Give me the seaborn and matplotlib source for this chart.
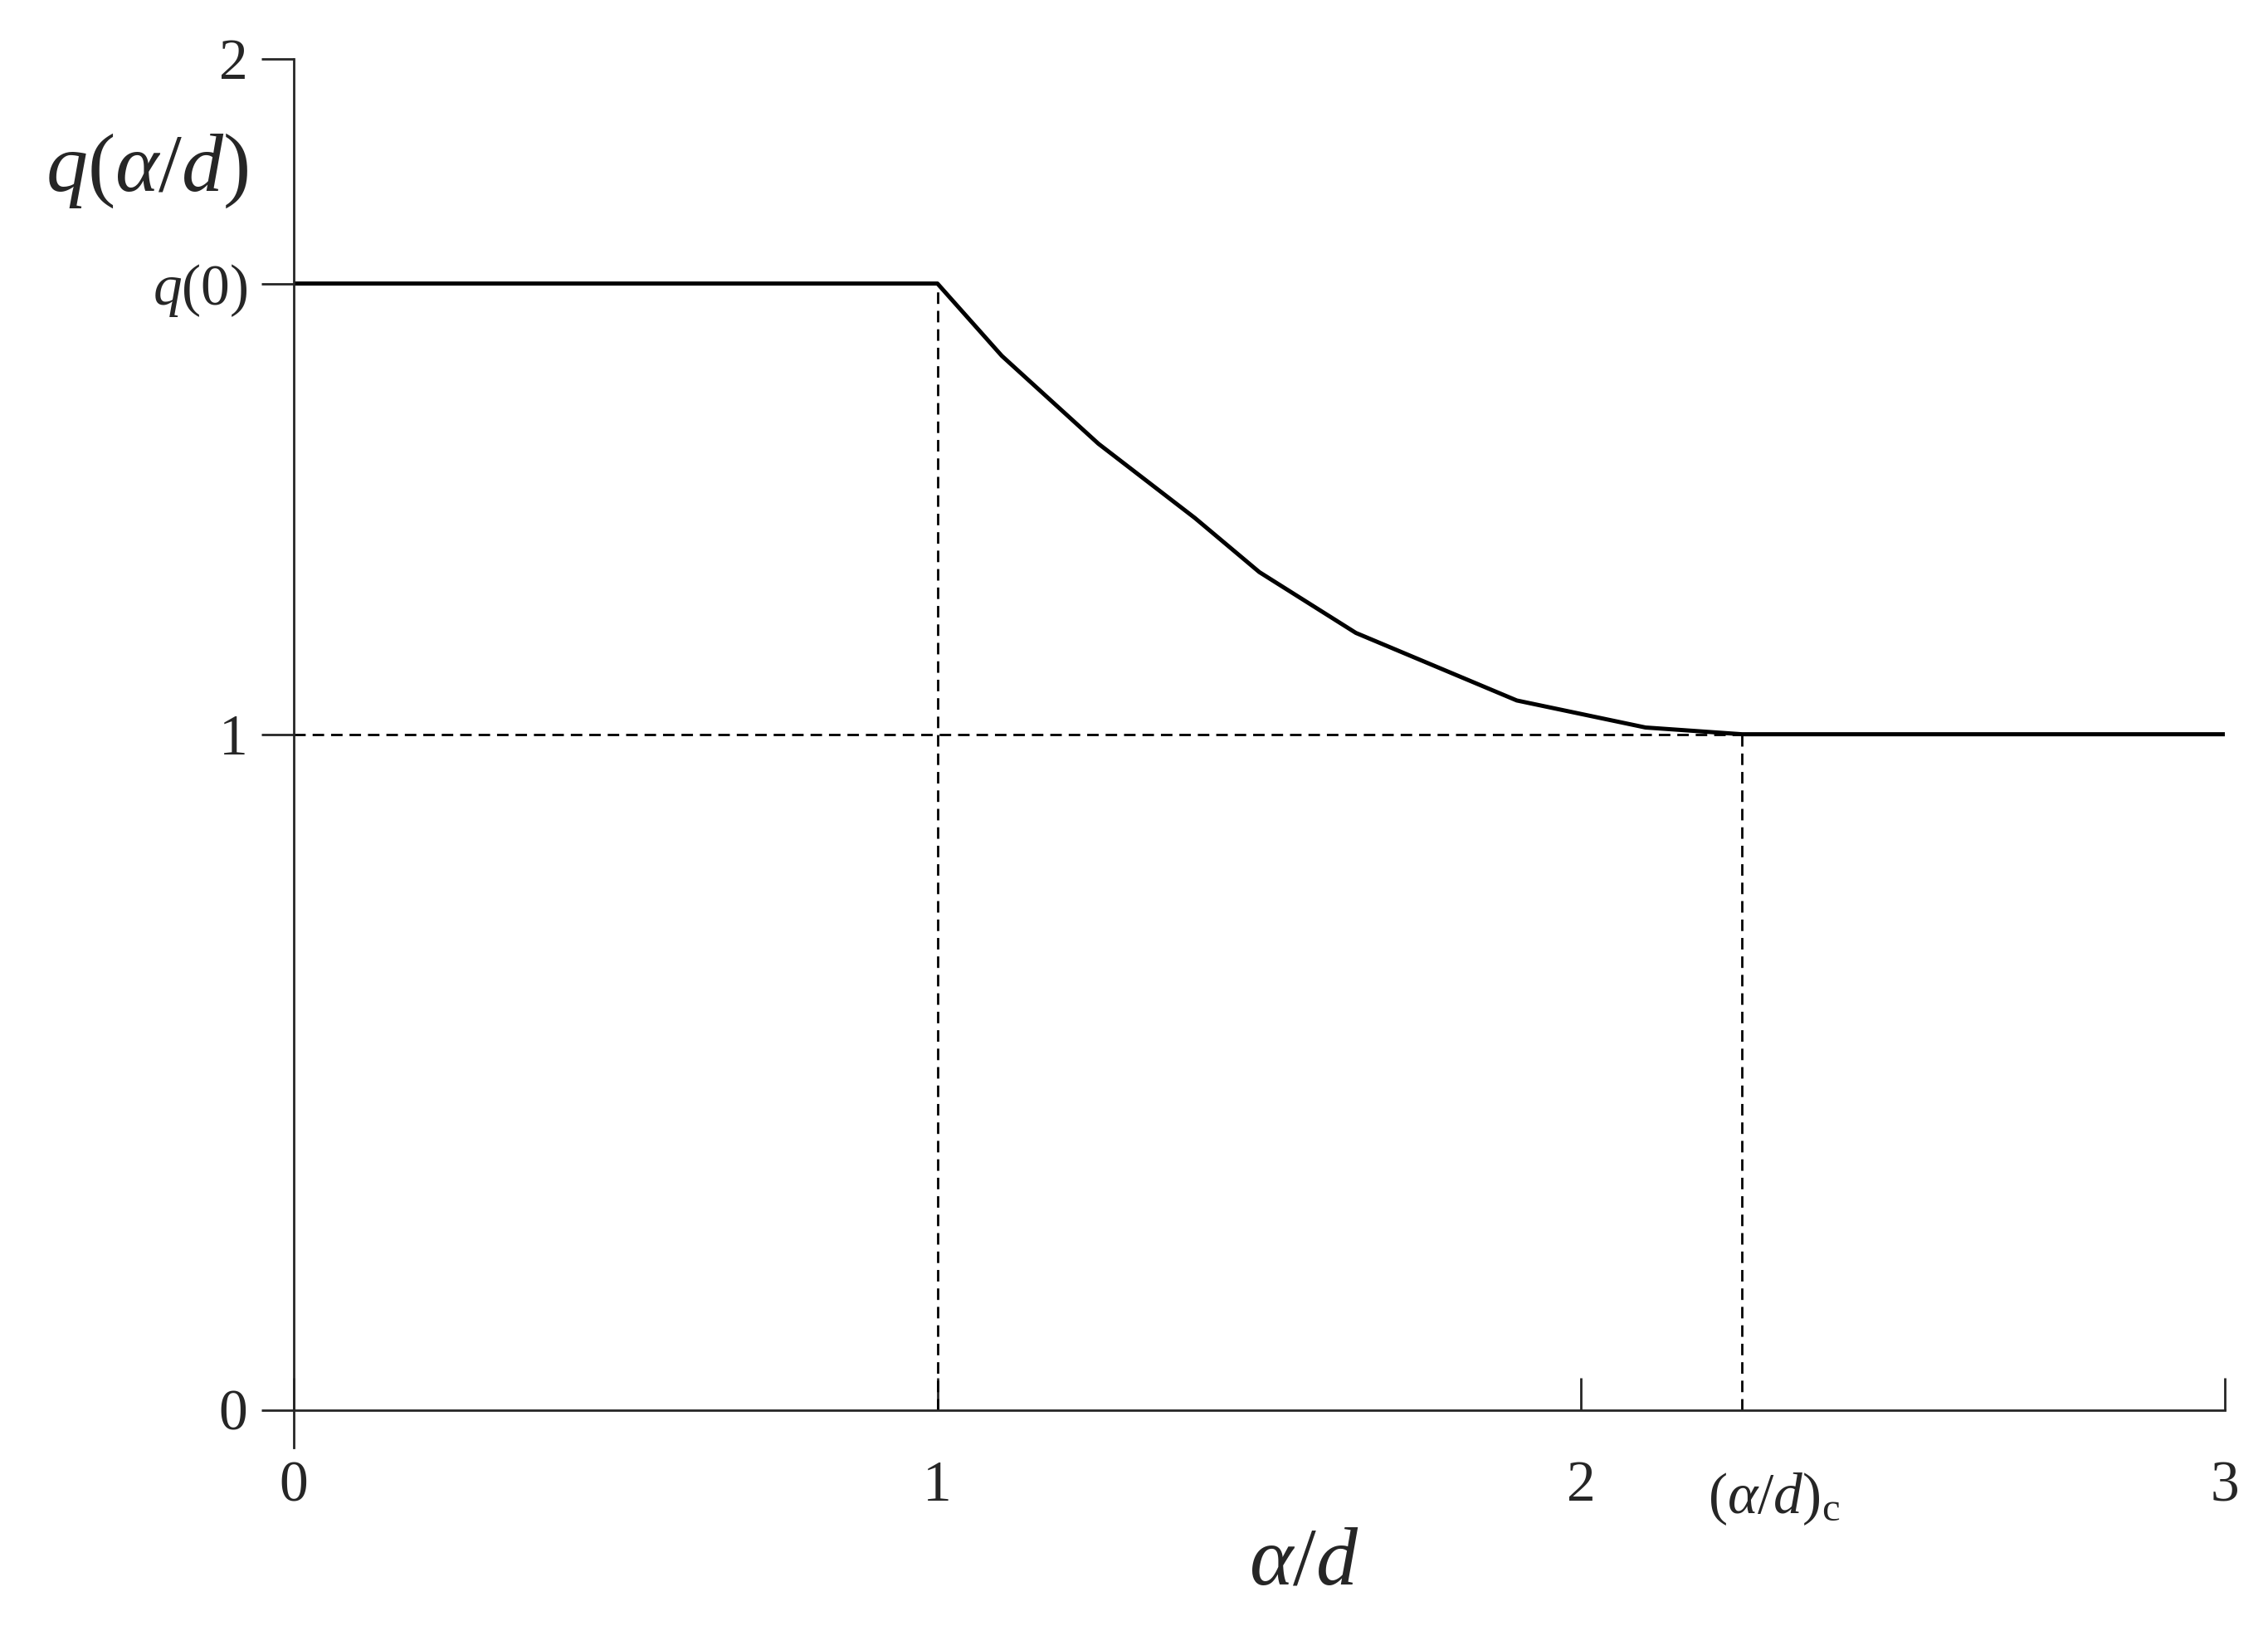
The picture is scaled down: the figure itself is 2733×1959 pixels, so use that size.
import matplotlib.pyplot as plt
import seaborn as sns
import pandas as pd

sns.set_style("ticks")
plt.rcParams["font.family"] = ["Liberation Serif", "DejaVu Serif"]
plt.rcParams["mathtext.fontset"] = "custom"
plt.rcParams["mathtext.rm"] = "Liberation Serif"
plt.rcParams["mathtext.it"] = "Liberation Serif:italic"

q0 = 1.667
xc = 2.25
# curve
x_vals = [0.0, 1.0, 1.1, 1.25, 1.4, 1.5, 1.65, 1.75, 1.9, 2.0, 2.1, 2.25, 3.0]
q_vals = [q0, q0, 1.56, 1.43, 1.32, 1.24, 1.15, 1.11, 1.05, 1.03, 1.01, 1.0, 1.0]
df = pd.DataFrame({"x": x_vals, "q": q_vals})

fig = plt.figure(figsize=(13.665, 9.795), dpi=200)
ax = fig.add_axes([0.1295, 0.11, 0.8515, 0.854])
sns.lineplot(data=df, x="x", y="q", color="black", linewidth=1.8, ax=ax)

dash = dict(color="black", linestyle=(0, (5, 3)), linewidth=1.0)
ax.plot([1, 1], [0, q0], **dash)
ax.plot([0, xc], [1, 1], **dash)
ax.plot([xc, xc], [0, 1], **dash)

ax.set_xlim(0, 3)
ax.set_ylim(-0.055, 2)
ax.spines["right"].set_visible(False)
ax.spines["top"].set_visible(False)
ax.spines["bottom"].set_position(("data", 0))
ax.spines["left"].set_linewidth(1.0)
ax.spines["bottom"].set_linewidth(1.0)

ax.set_xticks([0, 1, 2, 3])
ax.set_xticklabels(["0", "1", "2", "3"])
ax.set_yticks([0, 1, q0, 2])
ax.set_yticklabels(["0", "1", r"$q$(0)", "2"])
ax.tick_params(axis="x", direction="in", length=14, width=1.0, labelsize=25, pad=22)
ax.tick_params(axis="y", direction="out", length=14, width=1.0, labelsize=25, pad=6)
ax.text(xc + 0.05, -0.09, r"($\alpha$/$d$)$_{\mathrm{c}}$", fontsize=25, ha="center", va="top")

ax.set_xlabel("")
ax.set_ylabel("")
fig.text(0.575, 0.015, r"$\alpha$/$d$", fontsize=36, ha="center", va="bottom")
fig.text(0.065, 0.895, r"$q$($\alpha$/$d$)", fontsize=36, ha="center", va="center")

fig.savefig("out.png", dpi=200)
